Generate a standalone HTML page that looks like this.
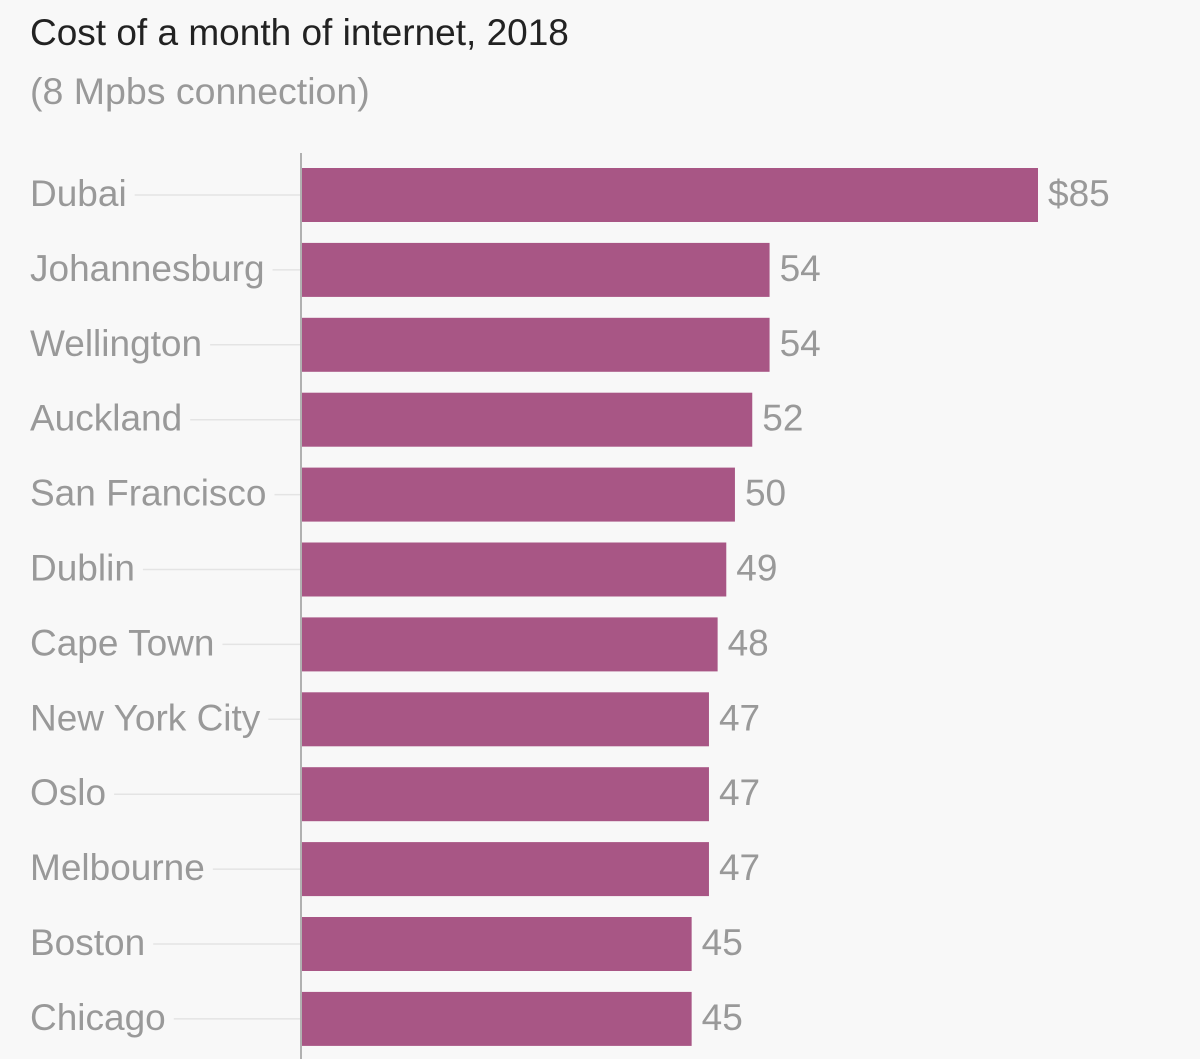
<!DOCTYPE html>
<html><head><meta charset="utf-8"><style>
html,body{margin:0;padding:0;background:#f8f8f8;}
svg{display:block;font-family:"Liberation Sans",sans-serif;}
</style></head><body>
<svg id="chart" width="1200" height="1059" viewBox="0 0 1200 1059">
<rect width="1200" height="1059" fill="#f8f8f8"/>
<text x="30" y="45" font-size="37" fill="#222">Cost of a month of internet, 2018</text>
<text x="30" y="104" font-size="37.5" fill="#999">(8 Mpbs connection)</text>
<g id="grid"></g><g id="bars"></g>
<line x1="301" y1="153" x2="301" y2="1059" stroke="#999" stroke-width="1.5"/>
</svg>
<script>
const cities=["Dubai","Johannesburg","Wellington","Auckland","San Francisco","Dublin","Cape Town","New York City","Oslo","Melbourne","Boston","Chicago"];
const values=[85,54,54,52,50,49,48,47,47,47,45,45];
const labelText=["$85","54","54","52","50","49","48","47","47","47","45","45"];
const NS="http://www.w3.org/2000/svg";
const x0=302, pxPer=(1038-302)/85;
const xs=v=>x0+v*pxPer;
const ys=i=>168+i*74.9;
const bh=54;
const g=document.getElementById('bars'), gr=document.getElementById('grid');
function mk(t,a,p){const e=document.createElementNS(NS,t);for(const k in a)e.setAttribute(k,a[k]);p.appendChild(e);return e;}
cities.forEach((c,i)=>{
  const y=ys(i), cy=y+bh/2;
  const lab=mk('text',{x:30,y:cy+11,'font-size':37,fill:'#999'},g);
  lab.textContent=c;
  
  
  const w=lab.getComputedTextLength();
  const ln=mk('line',{x1:30+w+8,x2:300,y1:cy,y2:cy,stroke:'#e4e4e4','stroke-width':1.5},gr);
  
  
  const r=mk('rect',{x:x0,y:y,width:xs(values[i])-x0,height:bh,fill:'#a85685'},g);
  
  
  const vt=mk('text',{x:xs(values[i])+10,y:cy+11,'font-size':37,fill:'#999'},g);
  vt.textContent=labelText[i];
  
  
});
</script>
</body></html>
